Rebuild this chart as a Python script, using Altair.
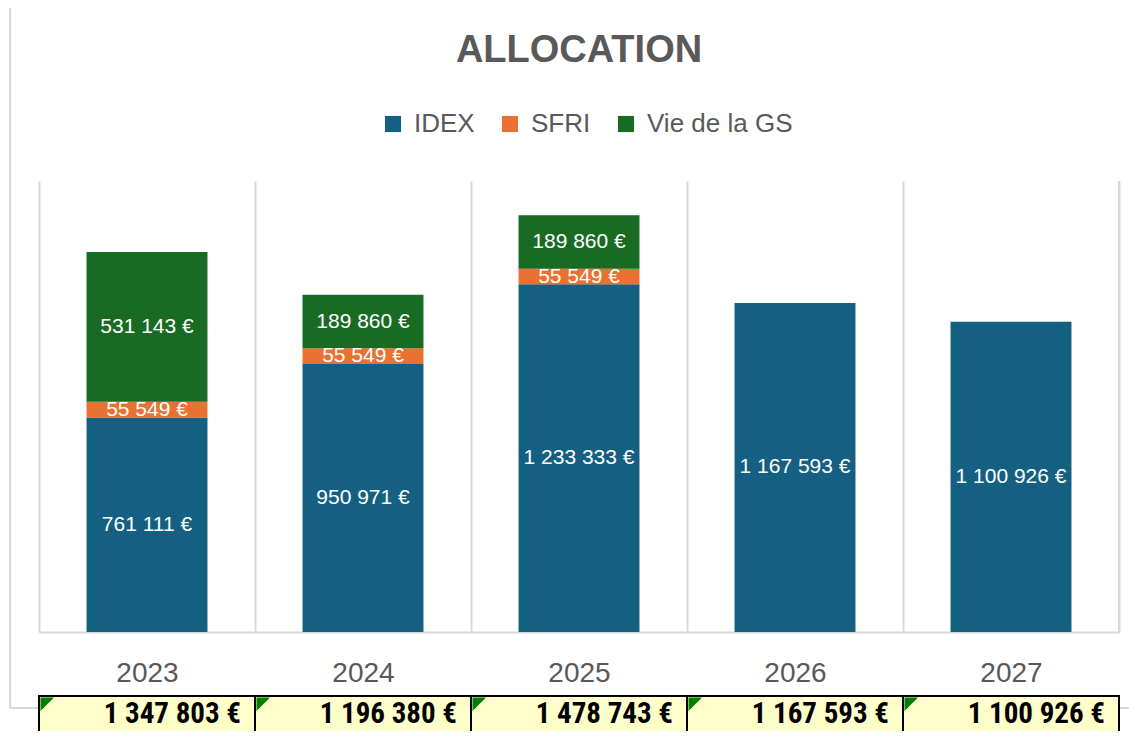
import altair as alt
import pandas as pd

years = ["2023", "2024", "2025", "2026", "2027"]
idex = [761111, 950971, 1233333, 1167593, 1100926]
sfri = [55549, 55549, 55549, 0, 0]
vie_gs = [531143, 189860, 189860, 0, 0]
totals = [1347803, 1196380, 1478743, 1167593, 1100926]
series = ["IDEX", "SFRI", "Vie de la GS"]
colors = ["#156082", "#E97132", "#196B24"]
title_text = "ALLOCATION"


def fmt(v):
    return f"{v:,}".replace(",", " ") + " €"


rows = []
for i, yr in enumerate(years):
    for k, (name, vals) in enumerate(zip(series, [idex, sfri, vie_gs])):
        if vals[i] > 0:
            rows.append({"year": yr, "serie": name, "order": k,
                         "value": vals[i], "label": fmt(vals[i])})
df = pd.DataFrame(rows)
tot_df = pd.DataFrame({"year": years, "total": totals,
                       "label": [fmt(t) for t in totals]})
title_df = pd.DataFrame({"t": [title_text]})

W, H = 1080, 451
GRID = "#d9d9d9"
TXT = "#595959"

xscale = alt.Scale(domain=years, paddingInner=0, paddingOuter=0)
xaxis = alt.Axis(title=None, labelAngle=0, ticks=False, domainColor=GRID,
                 domainWidth=2, grid=True, gridColor=GRID, gridWidth=2,
                 tickBand="extent", labelFontSize=28, labelColor=TXT,
                 labelPadding=27, labelFont="Liberation Sans")
yscale = alt.Scale(domain=[0, 1600000], nice=False)

frame_left = alt.Chart(title_df).mark_rule(color=GRID, strokeWidth=2).encode(
    x=alt.value(-29), y=alt.value(-175), y2=alt.value(527))
frame_bottom = alt.Chart(title_df).mark_rule(color=GRID, strokeWidth=2).encode(
    x=alt.value(-29), x2=alt.value(W + 20), y=alt.value(527))

bars = alt.Chart(df).mark_bar(width={"band": 0.56}).encode(
    x=alt.X("year:N", scale=xscale, axis=xaxis),
    y=alt.Y("sum(value):Q", scale=yscale, axis=None, stack="zero"),
    color=alt.Color("serie:N", scale=alt.Scale(domain=series, range=colors),
                    legend=alt.Legend(title=None, orient="none", direction="horizontal",
                                      legendX=341, legendY=-70, symbolType="square",
                                      symbolSize=260, symbolStrokeWidth=0,
                                      labelFontSize=26, labelColor=TXT,
                                      labelFont="Liberation Sans", labelOffset=8,
                                      columnPadding=22)),
    order=alt.Order("order:Q"),
)

labels = alt.Chart(df).transform_stack(
    stack="value", groupby=["year"], as_=["v0", "v1"],
    sort=[alt.SortField("order", "ascending")]
).transform_calculate(mid="(datum.v0 + datum.v1) / 2").mark_text(
    color="white", fontSize=21, font="Liberation Sans", baseline="middle"
).encode(
    x=alt.X("year:N", scale=xscale),
    y=alt.Y("mid:Q", scale=yscale),
    text="label:N",
)

right_edge = alt.Chart(title_df).mark_rule(color=GRID, strokeWidth=2).encode(
    x=alt.value(W), y=alt.value(0), y2=alt.value(H))

cells = alt.Chart(tot_df).mark_rect(fill="#FFFFCC", stroke="black", strokeWidth=2).encode(
    x=alt.X("year:N", scale=xscale), y=alt.value(515), y2=alt.value(570))

corners = alt.Chart(tot_df).mark_point(
    shape="M0.1,0.1 L1,0.1 L0.1,1 Z", filled=True, fill="#008000",
    opacity=1, size=900, strokeWidth=0
).encode(x=alt.X("year:N", scale=xscale, bandPosition=0), y=alt.value(515))

tot_text = alt.Chart(tot_df).mark_text(
    align="right", baseline="middle", fontSize=29, fontWeight="bold",
    font="Liberation Sans Narrow, Arial Narrow, Roboto Condensed, Open Sans Condensed, Noto Sans Condensed, Liberation Sans",
    color="black", dx=-14
).encode(x=alt.X("year:N", scale=xscale, bandPosition=1), y=alt.value(533),
         text="label:N")

title = alt.Chart(title_df).mark_text(
    fontSize=38, fontWeight="bold", color=TXT, font="Liberation Sans",
    baseline="middle", align="center"
).encode(x=alt.value(W / 2), y=alt.value(-130), text="t:N")

chart = alt.layer(
    frame_left, frame_bottom, right_edge, bars, labels, cells, corners, tot_text, title
).properties(
    width=W, height=H,
    autosize=alt.AutoSizeParams(type="none"),
    padding={"left": 31, "top": 173, "right": 10, "bottom": 99},
).configure_view(stroke=None)

chart.save("out.html", embed_options={"renderer": "svg", "actions": False})
